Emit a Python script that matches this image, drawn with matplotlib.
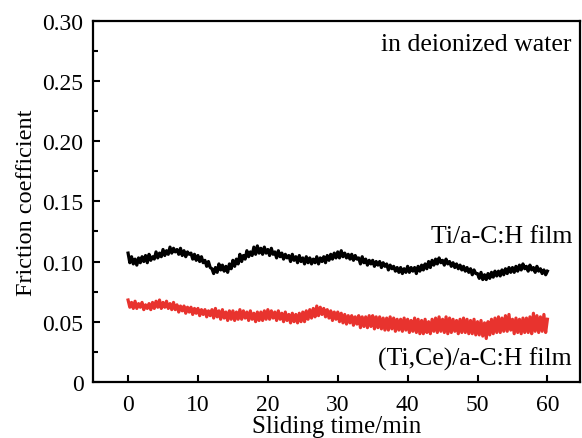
import numpy as np
import matplotlib
matplotlib.use('Agg')
import matplotlib.pyplot as plt
from matplotlib.ticker import MultipleLocator, FuncFormatter

plt.rcParams['font.family'] = ['Liberation Serif', 'DejaVu Serif']
plt.rcParams['font.size'] = 17

# sliding time (min), one reading every 0.25 min
time_min = np.arange(0, 60.01, 0.25)

# Ti/a-C:H film
ti_film = [
    0.107, 0.099, 0.104, 0.098, 0.102, 0.097, 0.103, 0.099,
    0.104, 0.100, 0.105, 0.099, 0.106, 0.101, 0.104, 0.102,
    0.108, 0.103, 0.107, 0.104, 0.110, 0.105, 0.109, 0.106,
    0.112, 0.107, 0.111, 0.108, 0.110, 0.106, 0.111, 0.105,
    0.109, 0.104, 0.108, 0.106, 0.107, 0.102, 0.106, 0.101,
    0.105, 0.100, 0.104, 0.099, 0.101, 0.096, 0.100, 0.095,
    0.094, 0.090, 0.095, 0.091, 0.098, 0.093, 0.097, 0.092,
    0.096, 0.091, 0.098, 0.094, 0.101, 0.096, 0.102, 0.098,
    0.106, 0.100, 0.105, 0.102, 0.109, 0.104, 0.108, 0.105,
    0.112, 0.106, 0.113, 0.107, 0.111, 0.106, 0.112, 0.107,
    0.110, 0.105, 0.111, 0.106, 0.108, 0.103, 0.109, 0.104,
    0.107, 0.102, 0.106, 0.103, 0.105, 0.100, 0.106, 0.101,
    0.104, 0.099, 0.105, 0.100, 0.103, 0.098, 0.104, 0.099,
    0.103, 0.098, 0.102, 0.099, 0.104, 0.098, 0.103, 0.100,
    0.104, 0.099, 0.105, 0.101, 0.106, 0.102, 0.107, 0.103,
    0.108, 0.103, 0.109, 0.104, 0.107, 0.103, 0.106, 0.102,
    0.106, 0.101, 0.105, 0.102, 0.103, 0.098, 0.104, 0.099,
    0.102, 0.097, 0.101, 0.098, 0.101, 0.096, 0.100, 0.097,
    0.100, 0.095, 0.099, 0.096, 0.098, 0.093, 0.097, 0.094,
    0.096, 0.092, 0.095, 0.091, 0.095, 0.090, 0.094, 0.091,
    0.096, 0.091, 0.095, 0.092, 0.095, 0.090, 0.096, 0.092,
    0.097, 0.093, 0.098, 0.094, 0.100, 0.095, 0.101, 0.097,
    0.102, 0.098, 0.103, 0.099, 0.101, 0.097, 0.102, 0.098,
    0.100, 0.096, 0.099, 0.095, 0.098, 0.094, 0.097, 0.093,
    0.096, 0.092, 0.095, 0.091, 0.094, 0.089, 0.093, 0.090,
    0.090, 0.086, 0.091, 0.085, 0.089, 0.085, 0.090, 0.086,
    0.091, 0.087, 0.092, 0.088, 0.092, 0.088, 0.093, 0.089,
    0.094, 0.090, 0.095, 0.091, 0.095, 0.091, 0.096, 0.092,
    0.097, 0.093, 0.098, 0.094, 0.096, 0.092, 0.097, 0.093,
    0.095, 0.091, 0.096, 0.092, 0.094, 0.090, 0.093, 0.089,
    0.092,
]

# (Ti,Ce)/a-C:H film
tice_film = [
    0.068, 0.062, 0.066, 0.061, 0.067, 0.061, 0.065, 0.062,
    0.066, 0.060, 0.064, 0.061, 0.065, 0.060, 0.066, 0.061,
    0.067, 0.062, 0.068, 0.061, 0.066, 0.062, 0.067, 0.061,
    0.065, 0.060, 0.066, 0.060, 0.064, 0.058, 0.063, 0.059,
    0.063, 0.057, 0.062, 0.058, 0.062, 0.056, 0.061, 0.057,
    0.061, 0.055, 0.060, 0.056, 0.060, 0.054, 0.059, 0.055,
    0.060, 0.053, 0.061, 0.054, 0.059, 0.052, 0.060, 0.053,
    0.058, 0.051, 0.059, 0.052, 0.059, 0.051, 0.058, 0.052,
    0.060, 0.052, 0.059, 0.053, 0.058, 0.051, 0.059, 0.052,
    0.057, 0.050, 0.058, 0.051, 0.058, 0.051, 0.059, 0.052,
    0.060, 0.052, 0.059, 0.053, 0.058, 0.051, 0.059, 0.052,
    0.057, 0.050, 0.058, 0.051, 0.056, 0.049, 0.057, 0.050,
    0.056, 0.049, 0.057, 0.050, 0.058, 0.050, 0.059, 0.052,
    0.060, 0.053, 0.061, 0.054, 0.063, 0.055, 0.062, 0.056,
    0.061, 0.054, 0.060, 0.053, 0.059, 0.051, 0.058, 0.052,
    0.058, 0.050, 0.057, 0.049, 0.056, 0.048, 0.055, 0.049,
    0.055, 0.047, 0.054, 0.048, 0.055, 0.045, 0.054, 0.046,
    0.054, 0.045, 0.055, 0.046, 0.055, 0.044, 0.054, 0.045,
    0.054, 0.044, 0.053, 0.043, 0.053, 0.043, 0.054, 0.044,
    0.053, 0.042, 0.052, 0.043, 0.052, 0.042, 0.053, 0.043,
    0.052, 0.041, 0.051, 0.042, 0.053, 0.041, 0.052, 0.040,
    0.051, 0.040, 0.052, 0.041, 0.050, 0.040, 0.052, 0.042,
    0.053, 0.041, 0.054, 0.042, 0.052, 0.041, 0.054, 0.040,
    0.053, 0.041, 0.052, 0.042, 0.051, 0.040, 0.052, 0.041,
    0.053, 0.041, 0.052, 0.040, 0.051, 0.040, 0.052, 0.039,
    0.050, 0.039, 0.051, 0.038, 0.049, 0.036, 0.050, 0.039,
    0.052, 0.040, 0.053, 0.041, 0.054, 0.041, 0.053, 0.042,
    0.055, 0.042, 0.056, 0.043, 0.052, 0.040, 0.053, 0.041,
    0.052, 0.040, 0.053, 0.041, 0.053, 0.041, 0.054, 0.040,
    0.057, 0.042, 0.055, 0.041, 0.054, 0.042, 0.056, 0.041,
    0.052,
]

fig = plt.figure(figsize=(5.82, 4.39), dpi=100)
ax = fig.add_axes([0.16, 0.128, 0.837, 0.822])

ax.plot(time_min, ti_film, color='black', linewidth=2.3)
ax.plot(time_min, tice_film, color='#e8332e', linewidth=2.3)

ax.set_xlim(-5, 64.7)
ax.set_ylim(0, 0.30)
ax.xaxis.set_major_locator(MultipleLocator(10))
ax.yaxis.set_major_locator(MultipleLocator(0.05))
ax.yaxis.set_minor_locator(MultipleLocator(0.025))
ax.yaxis.set_major_formatter(FuncFormatter(lambda v, p: '0' if abs(v) < 1e-9 else f'{v:.2f}'))

ax.tick_params(which='both', direction='in', width=1.5)
ax.tick_params(which='major', length=5)
ax.tick_params(axis='y', which='major', pad=7)
ax.tick_params(axis='x', which='major', pad=9)
ax.tick_params(which='minor', length=3.5)
for s in ax.spines.values():
    s.set_linewidth(1.6)

ax.set_xlabel('Sliding time/min', fontsize=18, labelpad=0)
ax.set_ylabel('Friction coefficient', fontsize=17.5, labelpad=4)

ax.text(0.983, 0.935, 'in deionized water', transform=ax.transAxes, ha='right', va='center', fontsize=18.5)
ax.text(0.983, 0.405, 'Ti/a-C:H film', transform=ax.transAxes, ha='right', va='center', fontsize=18.5)
ax.text(0.983, 0.065, '(Ti,Ce)/a-C:H film', transform=ax.transAxes, ha='right', va='center', fontsize=18.5)

fig.savefig('out.png', dpi=100)
